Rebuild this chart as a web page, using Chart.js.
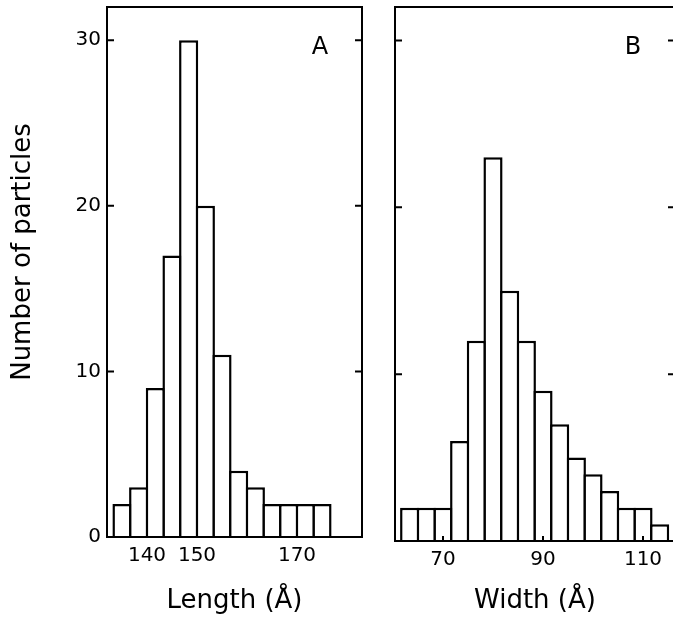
<!DOCTYPE html>
<html>
<head>
<meta charset="utf-8">
<script src="https://cdn.jsdelivr.net/npm/chart.js@4.4.1/dist/chart.umd.min.js"></script>
<style>
  html, body { margin: 0; padding: 0; background: #fff; overflow: hidden; width: 673px; height: 621px; }
  #wrapA { position: absolute; left: 0; top: 0; width: 380px; height: 621px; }
  #wrapB { position: absolute; left: 380px; top: 0; width: 300px; height: 621px; }
</style>
</head>
<body>
<div id="wrapA"><canvas id="lengthChart"></canvas></div>
<div id="wrapB"><canvas id="widthChart"></canvas></div>
<script>
// bin centres (Å) and particle counts
const lengthBins = [135, 138.33, 141.67, 145, 148.33, 151.67, 155, 158.33, 161.67, 165, 168.33, 171.67, 175];
const lengthCounts = [2, 3, 9, 17, 30, 20, 11, 4, 3, 2, 2, 2, 2];
const lengthTicks = [140, 150, 170];

const widthBins = [63.33, 66.67, 70, 73.33, 76.67, 80, 83.33, 86.67, 90, 93.33, 96.67, 100, 103.33, 106.67, 110, 113.33];
const widthCounts = [2, 2, 2, 6, 12, 23, 15, 12, 9, 7, 5, 4, 3, 2, 2, 1];
const widthTicks = [70, 90, 110];

const countTicks = [0, 10, 20, 30];

Chart.defaults.font.family = '"DejaVu Sans", sans-serif';
Chart.defaults.color = "#000";

const LINE = 2.5;

// box around the plot, inward ticks, panel letter, y title
const panelFrame = {
  id: "panelFrame",
  afterDatasetsDraw(chart, args, opts) {
    const { ctx, chartArea: a } = chart;
    const x = chart.scales.x, y = chart.scales.y;
    ctx.save();
    ctx.strokeStyle = "#000";
    ctx.lineWidth = 2;
    ctx.strokeRect(a.left, a.top, a.width, a.bottom - a.top);
    ctx.beginPath();
    for (const v of countTicks) {
      if (v === 0) continue;
      const py = y.getPixelForValue(v);
      ctx.moveTo(a.left, py); ctx.lineTo(a.left + 7, py);
      ctx.moveTo(a.right, py); ctx.lineTo(a.right - 7, py);
    }
    for (const t of x.ticks) {
      const px = x.getPixelForValue(t.value);
      ctx.moveTo(px, a.bottom); ctx.lineTo(px, a.bottom - 5);
    }
    ctx.stroke();

    ctx.fillStyle = "#000";
    ctx.textAlign = "center";
    ctx.textBaseline = "middle";
    ctx.font = '24px "DejaVu Sans"';
    ctx.fillText(opts.letter, a.right - 42, a.top + 41);

    if (opts.yTitle) {
      ctx.translate(23, (a.top + a.bottom) / 2 - 20);
      ctx.rotate(-Math.PI / 2);
      ctx.font = '26px "DejaVu Sans"';
      ctx.fillText(opts.yTitle, 0, 0);
    }
    ctx.restore();
  },
};

function histogram(canvasId, bins, counts, ticks, cfg) {
  // bars are widened by one line width so neighbours share a single edge
  const binPx = (cfg.plotW / (cfg.xMax - cfg.xMin)) * (bins[1] - bins[0]);
  return new Chart(document.getElementById(canvasId), {
    type: "bar",
    plugins: [panelFrame],
    data: {
      datasets: [{
        data: bins.map((b, i) => ({ x: b, y: counts[i] })),
        backgroundColor: "#fff",
        borderColor: "#000",
        borderWidth: LINE,
        barPercentage: 1 + LINE / binPx,
        categoryPercentage: 1,
      }],
    },
    options: {
      responsive: true,
      maintainAspectRatio: false,
      animation: false,
      layout: { padding: { top: 7, right: cfg.rightPad, left: 0, bottom: 0 } },
      plugins: {
        legend: { display: false },
        tooltip: { enabled: false },
        panelFrame: { letter: cfg.letter, yTitle: cfg.yTitle },
      },
      scales: {
        x: {
          type: "linear",
          min: cfg.xMin,
          max: cfg.xMax,
          offset: false,
          grid: { display: false, drawTicks: false },
          border: { display: false },
          afterBuildTicks: (s) => { s.ticks = ticks.map((v) => ({ value: v })); },
          afterFit: (s) => { s.height = cfg.bottomH; s.paddingLeft = 0; s.paddingRight = 0; },
          ticks: { font: { size: 20 }, padding: 7, maxRotation: 0, autoSkip: false },
          title: { display: true, text: cfg.xTitle, font: { size: 26 }, padding: { top: 0, bottom: 4 } },
        },
        y: {
          min: 0,
          max: 32,
          grid: { display: false, drawTicks: false },
          border: { display: false },
          afterBuildTicks: (s) => { s.ticks = countTicks.map((v) => ({ value: v })); },
          afterFit: (s) => { s.width = cfg.leftW; s.paddingTop = 0; s.paddingBottom = 0; },
          ticks: { display: cfg.showY, font: { size: 20 }, padding: 6 },
        },
      },
    },
  });
}

histogram("lengthChart", lengthBins, lengthCounts, lengthTicks, {
  letter: "A", yTitle: "Number of particles", xTitle: "Length (Å)",
  xMin: 132, xMax: 183, plotW: 255, leftW: 107, rightPad: 18, bottomH: 84, showY: true,
});

histogram("widthChart", widthBins, widthCounts, widthTicks, {
  letter: "B", yTitle: null, xTitle: "Width (Å)",
  xMin: 60.4, xMax: 116.4, plotW: 280, leftW: 15, rightPad: 5, bottomH: 80, showY: false,
});
</script>
</body>
</html>
